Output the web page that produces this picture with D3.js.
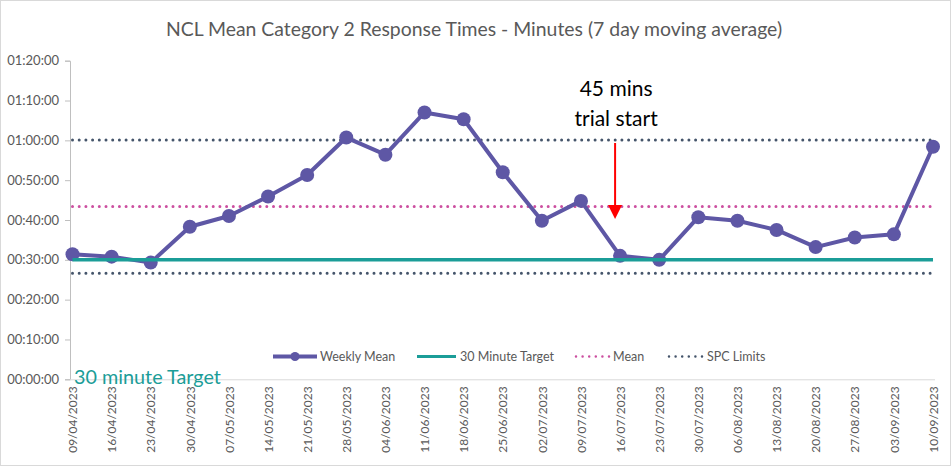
<!DOCTYPE html>
<html>
<head>
<meta charset="utf-8">
<script src="https://cdn.jsdelivr.net/npm/d3@7"></script>
<style>
  body { margin: 0; background: #fff; }
  text { font-family: Lato, "Open Sans", sans-serif; }
</style>
</head>
<body>
<script>
// weekly dates (week ending)
const dates = ['09/04/2023','16/04/2023','23/04/2023','30/04/2023','07/05/2023','14/05/2023',
  '21/05/2023','28/05/2023','04/06/2023','11/06/2023','18/06/2023','25/06/2023','02/07/2023',
  '09/07/2023','16/07/2023','23/07/2023','30/07/2023','06/08/2023','13/08/2023','20/08/2023',
  '27/08/2023','03/09/2023','10/09/2023'];
// weekly mean response time, minutes
const weeklyMean = [31.4, 30.8, 29.3, 38.3, 41.0, 45.9, 51.3, 60.7, 56.4, 67.0, 65.3, 52.0,
  39.8, 44.8, 31.0, 30.0, 40.7, 39.8, 37.5, 33.2, 35.6, 36.4, 58.4];
const target = 30;
const meanLine = 43.4;
const spcUpper = 60.1;
const spcLower = 26.6;
const yTicks = [0, 10, 20, 30, 40, 50, 60, 70, 80];

const W = 951, H = 466;

const purple = '#5E57A5', teal = '#1B9D98', pink = '#CC4FA0', navy = '#44546A', grey = '#595959';

const svg = d3.select('body').append('svg')
  .attr('width', W).attr('height', H);

svg.append('rect')
  .attr('x', 0.5).attr('y', 0.5).attr('width', W - 1).attr('height', H - 1)
  .attr('fill', '#fff').attr('stroke', '#d9d9d9');

const x = d3.scalePoint()
  .domain(dates)
  .range([72.5, 933]);

const y = d3.scaleLinear()
  .domain([0, 80])
  .range([379.3, 60.7]);

function fmt(m) {
  const h = Math.floor(m / 60), mm = m % 60;
  return String(h).padStart(2, '0') + ':' + String(mm).padStart(2, '0') + ':00';
}

// title
svg.append('text')
  .attr('x', 474).attr('y', 36)
  .attr('text-anchor', 'middle')
  .style('font-size', '19.4px')
  .attr('fill', grey)
  .text('NCL Mean Category 2 Response Times - Minutes (7 day moving average)');

// y axis
const yAxis = svg.append('g')
  .attr('transform', 'translate(70,0)')
  .call(d3.axisLeft(y).tickValues(yTicks).tickFormat(fmt).tickSize(5).tickPadding(6));
yAxis.select('.domain').attr('stroke', '#bfbfbf');
yAxis.selectAll('.tick line').attr('stroke', '#bfbfbf');
yAxis.selectAll('text').attr('fill', grey).style('font-size', '13px')
  .style('font-family', 'Lato, sans-serif');

// x axis
const xAxis = svg.append('g')
  .attr('transform', 'translate(0,' + y(0) + ')')
  .call(d3.axisBottom(x).tickSize(0).tickPadding(6));
xAxis.select('.domain').attr('d', 'M70,0.5H935').attr('stroke', '#d9d9d9');
xAxis.selectAll('text')
  .attr('fill', grey)
  .style('font-size', '12px')
  .style('font-family', 'Lato, sans-serif')
  .attr('transform', 'rotate(-90)')
  .attr('text-anchor', 'end')
  .attr('dy', '0.35em')
  .attr('x', -7).attr('y', 0);

// horizontal reference lines
function hline(val, color, dotted, width) {
  const l = svg.append('line')
    .attr('x1', x(dates[0])).attr('x2', x(dates[dates.length - 1]))
    .attr('y1', y(val)).attr('y2', y(val))
    .attr('stroke', color).attr('stroke-width', width);
  if (dotted) l.attr('stroke-dasharray', '0 6.7').attr('stroke-linecap', 'round');
  return l;
}
hline(spcUpper, navy, true, 3);
hline(spcLower, navy, true, 3);
hline(meanLine, pink, true, 3);

// weekly mean line
const line = d3.line()
  .x((d, i) => x(dates[i]))
  .y(d => y(d));
svg.append('path')
  .datum(weeklyMean)
  .attr('d', line)
  .attr('fill', 'none')
  .attr('stroke', purple)
  .attr('stroke-width', 4)
  .attr('stroke-linejoin', 'round');

svg.selectAll('circle.pt')
  .data(weeklyMean)
  .enter()
  .append('circle')
  .attr('class', 'pt')
  .attr('cx', (d, i) => x(dates[i]))
  .attr('cy', d => y(d))
  .attr('r', 7)
  .attr('fill', purple);

// target line on top
hline(target, teal, false, 3.5);

// annotation
const ax = x('16/07/2023') - 5;
svg.append('line')
  .attr('x1', ax).attr('x2', ax)
  .attr('y1', 143).attr('y2', 206)
  .attr('stroke', '#ff0000').attr('stroke-width', 2);
svg.append('path')
  .attr('d', `M${ax - 7},205 L${ax + 7},205 L${ax},219 Z`)
  .attr('fill', '#ff0000');
svg.append('text')
  .attr('x', ax + 1).attr('y', 96)
  .attr('text-anchor', 'middle')
  .style('font-size', '21px').attr('fill', '#000')
  .text('45 mins');
svg.append('text')
  .attr('x', ax + 1).attr('y', 126)
  .attr('text-anchor', 'middle')
  .style('font-size', '21px').attr('fill', '#000')
  .text('trial start');

// "30 minute Target" label
svg.append('text')
  .attr('x', 74).attr('y', 384)
  .style('font-size', '19.8px')
  .attr('fill', teal)
  .text('30 minute Target');

// legend
const legY = 356.5;
const legend = svg.append('g');
legend.append('line').attr('x1', 273).attr('x2', 317).attr('y1', legY).attr('y2', legY)
  .attr('stroke', purple).attr('stroke-width', 4);
legend.append('circle').attr('cx', 295).attr('cy', legY).attr('r', 4.5).attr('fill', purple);
legend.append('line').attr('x1', 417).attr('x2', 456).attr('y1', legY).attr('y2', legY)
  .attr('stroke', teal).attr('stroke-width', 3);
legend.append('line').attr('x1', 576).attr('x2', 609).attr('y1', legY).attr('y2', legY)
  .attr('stroke', pink).attr('stroke-width', 2.5).attr('stroke-dasharray', '0 6.6').attr('stroke-linecap', 'round');
legend.append('line').attr('x1', 669).attr('x2', 702).attr('y1', legY).attr('y2', legY)
  .attr('stroke', navy).attr('stroke-width', 2.5).attr('stroke-dasharray', '0 6.6').attr('stroke-linecap', 'round');
const legText = [['Weekly Mean', 320], ['30 Minute Target', 460], ['Mean', 613], ['SPC Limits', 707]];
legText.forEach(([t, lx]) => {
  legend.append('text').attr('x', lx).attr('y', legY + 4.5)
    .style('font-size', '12.5px').attr('fill', grey).text(t);
});
</script>
</body>
</html>
